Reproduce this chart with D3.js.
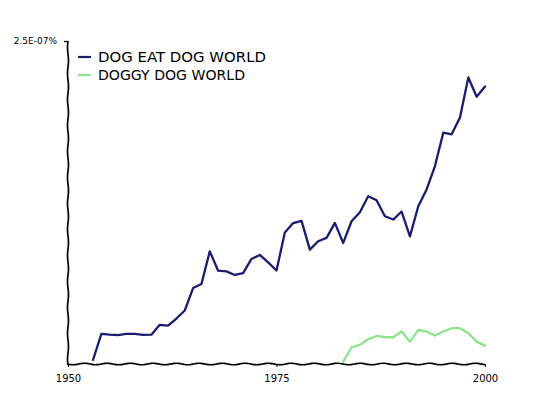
<!DOCTYPE html>
<html><head><meta charset="utf-8">
<script src="https://cdn.jsdelivr.net/npm/d3@7"></script>
<style>
body{margin:0;background:#fff;}
svg{display:block;}
text{font-family:"Humor Sans","xkcd","Comic Sans MS","DejaVu Sans",sans-serif;fill:#000;}
</style></head>
<body>
<svg id="c" width="540" height="405"></svg>
<script>
// Data (values in percent)
const dogEatDogYears = d3.range(1953, 2001);
const dogEatDogValues = [0.031,0.233,0.227,0.223,0.233,0.233,0.225,0.227,0.303,0.297,0.352,0.414,0.588,0.619,0.872,0.722,0.717,0.689,0.704,0.813,0.844,0.787,0.724,1.017,1.091,1.108,0.885,0.950,0.976,1.092,0.937,1.105,1.175,1.299,1.268,1.144,1.118,1.180,0.988,1.221,1.351,1.532,1.791,1.778,1.908,2.218,2.068,2.148].map(v => v * 1e-7);
const doggyYears = d3.range(1983, 2001);
const doggyValues = [0.018,0.130,0.148,0.192,0.217,0.207,0.207,0.251,0.173,0.264,0.251,0.220,0.251,0.277,0.277,0.238,0.173,0.142].map(v => v * 1e-7);
const seriesNames = ["DOG EAT DOG WORLD", "DOGGY DOG WORLD"];
const seriesColors = ["#1c1c6e", "#8fe38c"];
const xTicks = [1950, 1975, 2000];
const yTicks = [2.5e-7];
const yTickLabels = ["2.5E-07%"];

const svg = d3.select("#c");
const L = 68, R = 485, T = 41, B = 364;
const x = d3.scaleLinear().domain([1950, 2000]).range([L, R]);
const y = d3.scaleLinear().domain([0, 2.5e-7]).range([B, T]);

// wavy axis helper
function wavy(x0, y0, x1, y1, period, amp) {
  const len = Math.hypot(x1 - x0, y1 - y0);
  const n = Math.ceil(len / 2);
  const ux = (x1 - x0) / len, uy = (y1 - y0) / len;
  const pts = [];
  for (let i = 0; i <= n; i++) {
    const t = len * i / n;
    const o = amp * Math.sin(2 * Math.PI * t / period);
    pts.push([x0 + ux * t - uy * o, y0 + uy * t + ux * o]);
  }
  return d3.line().curve(d3.curveBasis)(pts);
}

// x axis
const gx = svg.append("g").attr("transform", `translate(0,${B})`)
  .call(d3.axisBottom(x).tickValues(xTicks).tickFormat(d3.format("d")).tickSize(3).tickPadding(8));
gx.select(".domain").remove();
gx.selectAll(".tick line").attr("stroke", "#000").attr("stroke-width", 1);
gx.selectAll(".tick text").attr("font-size", 10).attr("fill", "#000");
svg.append("path").attr("d", wavy(L - 1, B, R + 1, B, 23, 0.8))
  .attr("fill", "none").attr("stroke", "#000").attr("stroke-width", 1.7);

// y axis
const gy = svg.append("g").attr("transform", `translate(${L},0)`)
  .call(d3.axisLeft(y).tickValues(yTicks).tickFormat((d, i) => yTickLabels[i]).tickSize(4).tickPadding(7));
gy.select(".domain").remove();
gy.selectAll(".tick line").attr("stroke", "#000").attr("stroke-width", 1.3);
gy.selectAll(".tick text").attr("font-size", 9).attr("fill", "#000");
svg.append("path").attr("d", wavy(L, T, L, B + 1, 26, 0.5))
  .attr("fill", "none").attr("stroke", "#000").attr("stroke-width", 1.7);

// lines
const line = d3.line().x(d => x(d[0])).y(d => y(d[1]));
const series = [
  d3.zip(dogEatDogYears, dogEatDogValues),
  d3.zip(doggyYears, doggyValues)
];
series.forEach((s, i) => {
  svg.append("path").datum(s).attr("d", line)
    .attr("fill", "none").attr("stroke", seriesColors[i])
    .attr("stroke-width", 2.3).attr("stroke-linejoin", "round").attr("stroke-linecap", "round");
});

// legend
const lg = svg.append("g");
seriesNames.forEach((name, i) => {
  const yy = 57 + i * 18;
  lg.append("line").attr("x1", 78).attr("x2", 91).attr("y1", yy).attr("y2", yy)
    .attr("stroke", seriesColors[i]).attr("stroke-width", 2.2);
  lg.append("text").attr("x", 98).attr("y", yy + 5).attr("font-size", 14)
    .attr("textLength", i === 0 ? 168 : 147).attr("lengthAdjust", "spacingAndGlyphs")
    .text(name);
});
</script>
</body></html>
